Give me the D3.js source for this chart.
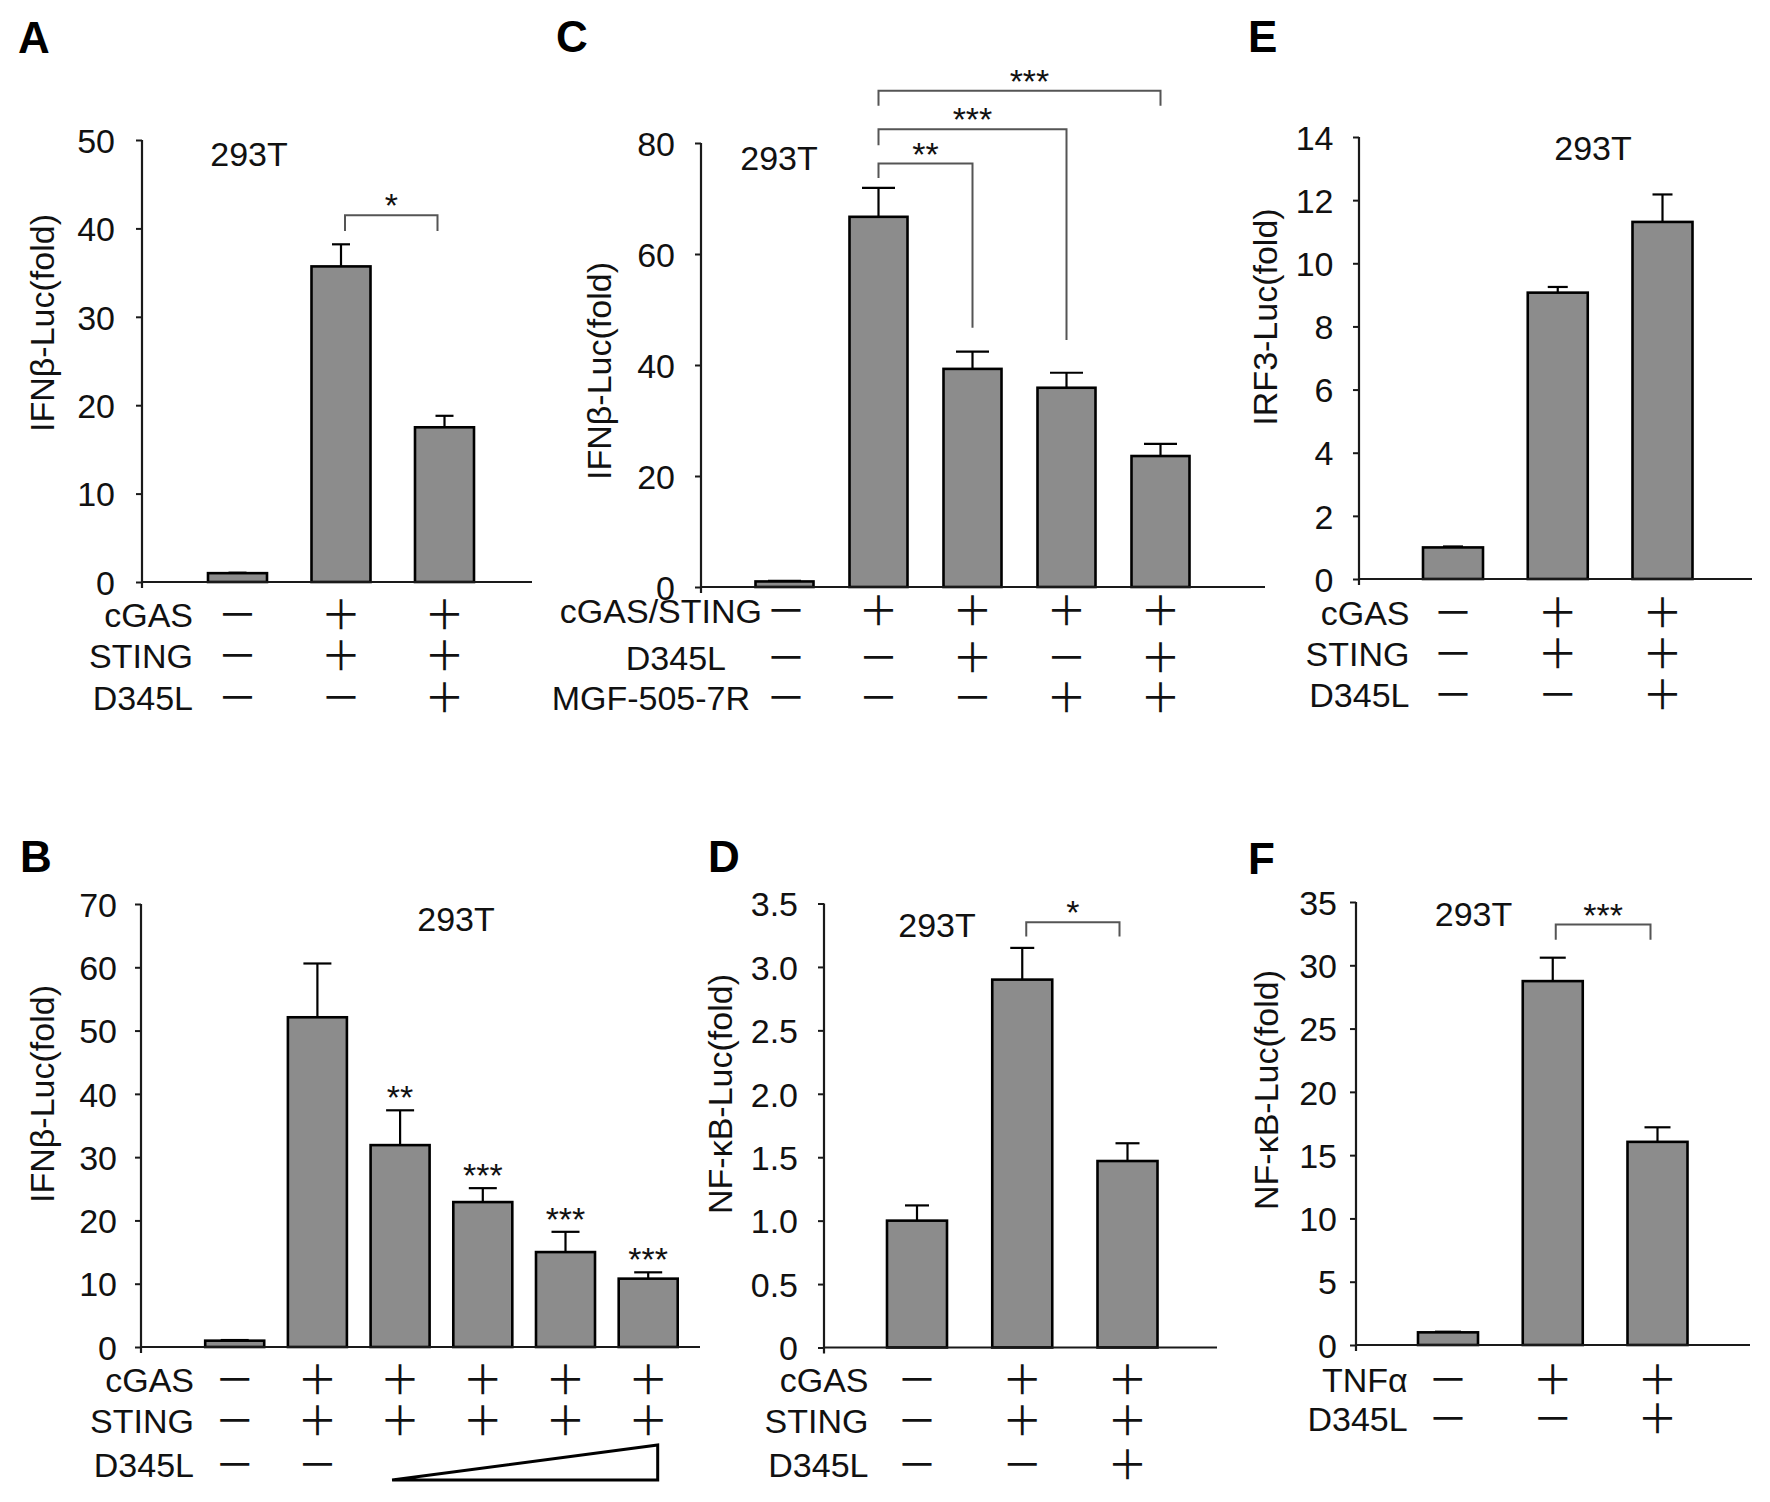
<!DOCTYPE html>
<html><head><meta charset="utf-8">
<script src="https://cdn.jsdelivr.net/npm/d3@7"></script>
<style>
body{margin:0;background:#fff}
svg{display:block}
</style>
</head><body>
<svg id="fig" width="1770" height="1502"></svg>
<script>
// ---------------- DATA ----------------
// Panel A
const aCategories = ["ctrl", "cGAS+STING", "cGAS+STING+D345L"];
const aValues = [1.0, 35.7, 17.5];
const aErrors = [0.05, 2.5, 1.3];
const aTicks = [0, 10, 20, 30, 40, 50];
const aRowLabels = ["cGAS", "STING", "D345L"];
const aRowSigns = [["-", "+", "+"], ["-", "+", "+"], ["-", "-", "+"]];
const aBrackets = [{from: 1, to: 2, label: "*"}];

// Panel C
const cCategories = ["ctrl", "cGAS/STING", "+D345L", "+MGF-505-7R", "+D345L+MGF-505-7R"];
const cValues = [1.0, 66.7, 39.3, 35.9, 23.6];
const cErrors = [0.1, 5.2, 3.1, 2.7, 2.2];
const cTicks = [0, 20, 40, 60, 80];
const cRowLabels = ["cGAS/STING", "D345L", "MGF-505-7R"];
const cRowSigns = [["-", "+", "+", "+", "+"], ["-", "-", "+", "-", "+"], ["-", "-", "-", "+", "+"]];
const cBrackets = [{from: 1, to: 2, label: "**"}, {from: 1, to: 3, label: "***"}, {from: 1, to: 4, label: "***"}];

// Panel E
const eCategories = ["ctrl", "cGAS+STING", "cGAS+STING+D345L"];
const eValues = [1.0, 9.07, 11.31];
const eErrors = [0.03, 0.18, 0.87];
const eTicks = [0, 2, 4, 6, 8, 10, 12, 14];
const eRowLabels = ["cGAS", "STING", "D345L"];
const eRowSigns = [["-", "+", "+"], ["-", "+", "+"], ["-", "-", "+"]];

// Panel B
const bCategories = ["ctrl", "cGAS+STING", "D345L dose 1", "D345L dose 2", "D345L dose 3", "D345L dose 4"];
const bValues = [1.0, 52.1, 31.9, 22.9, 15.0, 10.8];
const bErrors = [0.1, 8.5, 5.5, 2.2, 3.2, 1.0];
const bStars = ["", "", "**", "***", "***", "***"];
const bTicks = [0, 10, 20, 30, 40, 50, 60, 70];
const bRowLabels = ["cGAS", "STING", "D345L"];
const bRowSigns = [["-", "+", "+", "+", "+", "+"], ["-", "+", "+", "+", "+", "+"], ["-", "-", "ramp", "ramp", "ramp", "ramp"]];

// Panel D
const dCategories = ["ctrl", "cGAS+STING", "cGAS+STING+D345L"];
const dValues = [1.0, 2.90, 1.47];
const dErrors = [0.12, 0.25, 0.14];
const dTicks = [0, 0.5, 1.0, 1.5, 2.0, 2.5, 3.0, 3.5];
const dTickLabels = ["0", "0.5", "1.0", "1.5", "2.0", "2.5", "3.0", "3.5"];
const dRowLabels = ["cGAS", "STING", "D345L"];
const dRowSigns = [["-", "+", "+"], ["-", "+", "+"], ["-", "-", "+"]];
const dBrackets = [{from: 1, to: 2, label: "*"}];

// Panel F
const fCategories = ["ctrl", "TNFα", "TNFα+D345L"];
const fValues = [1.0, 28.75, 16.05];
const fErrors = [0.05, 1.85, 1.15];
const fTicks = [0, 5, 10, 15, 20, 25, 30, 35];
const fRowLabels = ["TNFα", "D345L"];
const fRowSigns = [["-", "+", "+"], ["-", "-", "+"]];
const fBrackets = [{from: 1, to: 2, label: "***"}];

// ---------------- LAYOUT / STYLE ----------------
const FONT = '"Liberation Sans", Arial, Helvetica, sans-serif';
const SYM_FONT = '"Noto Sans CJK SC", "Noto Sans CJK JP", sans-serif';
const BAR_FILL = "#8c8c8c";
const svg = d3.select("#fig");

function drawPanel(p) {
  const L = p.layout;
  const g = svg.append("g");
  const n = p.categories.length;
  const pad = 1 - L.barW / L.step;
  const x = d3.scaleBand().domain(p.categories)
    .range([L.c0 - L.step / 2, L.c0 + (n - 0.5) * L.step])
    .paddingInner(pad).paddingOuter(pad / 2);
  const y = d3.scaleLinear().domain([0, p.yMax]).range([L.y0, L.yTop]);
  const cx = c => x(c) + x.bandwidth() / 2;
  const rows = p.categories.map((c, i) => ({c, v: p.values[i], e: p.errors[i], i}));

  // bars
  g.append("g").selectAll("rect").data(rows).join("rect")
    .attr("x", d => x(d.c)).attr("y", d => y(d.v))
    .attr("width", x.bandwidth()).attr("height", d => y(0) - y(d.v))
    .attr("fill", BAR_FILL).attr("stroke", "#000").attr("stroke-width", 2.6);

  // error bars (upper)
  const eb = g.append("g").attr("stroke", "#000").attr("stroke-width", 2.2);
  eb.selectAll("line.v").data(rows.filter(d => d.e > 0)).join("line")
    .attr("x1", d => cx(d.c)).attr("x2", d => cx(d.c))
    .attr("y1", d => y(d.v)).attr("y2", d => y(d.v + d.e));
  eb.selectAll("line.cap").data(rows.filter(d => d.e > 0)).join("line")
    .attr("x1", d => cx(d.c) - L.cap / 2).attr("x2", d => cx(d.c) + L.cap / 2)
    .attr("y1", d => y(d.v + d.e)).attr("y2", d => y(d.v + d.e));

  // y axis
  const axis = d3.axisLeft(y).tickValues(p.ticks).tickSize(6).tickSizeOuter(0)
    .tickPadding(L.labelGap - 6)
    .tickFormat(p.tickLabels ? ((d, i) => p.tickLabels[i]) : d3.format("d"));
  const ga = g.append("g").attr("transform", `translate(${L.axisX},0)`).call(axis)
    .attr("font-size", 34).attr("font-family", FONT);
  ga.select(".domain").remove();
  ga.selectAll(".tick line").attr("stroke", "#1a1a1a").attr("stroke-width", 2);
  ga.selectAll(".tick text").attr("fill", "#111").attr("dy", "0.36em");
  g.append("line").attr("x1", L.axisX).attr("x2", L.axisX)
    .attr("y1", y(p.yMax)).attr("y2", y(0) + 6)
    .attr("stroke", "#1a1a1a").attr("stroke-width", 2.2);
  // x axis (baseline)
  g.append("line").attr("x1", L.axisX).attr("x2", L.xEnd)
    .attr("y1", y(0)).attr("y2", y(0))
    .attr("stroke", "#1a1a1a").attr("stroke-width", 2.2);

  // y label
  g.append("text").attr("transform", `translate(${L.ylabX},${L.ylabY}) rotate(-90)`)
    .attr("text-anchor", "middle").attr("font-family", FONT).attr("font-size", 34)
    .attr("fill", "#111").text(p.ylabel);

  // cell line label
  g.append("text").attr("x", L.cellX).attr("y", L.cellY).attr("text-anchor", "middle")
    .attr("font-family", FONT).attr("font-size", 34).attr("fill", "#111").text("293T");

  // panel letter
  g.append("text").attr("x", L.letterX).attr("y", L.letterY)
    .attr("font-family", FONT).attr("font-weight", "bold").attr("font-size", 44)
    .attr("fill", "#000").text(p.letter);

  // treatment rows
  p.rowLabels.forEach((lab, r) => {
    const by = L.rowY[r];
    const lx = Array.isArray(L.rowLabelX) ? L.rowLabelX[r] : L.rowLabelX;
    g.append("text").attr("x", lx).attr("y", by).attr("text-anchor", "end")
      .attr("font-family", FONT).attr("font-size", 34).attr("fill", "#111").text(lab);
    const signs = p.rowSigns[r];
    const sx = (i) => (i === 0 && L.firstSymX) ? L.firstSymX : cx(p.categories[i]);
    g.append("g").selectAll("text").data(signs.map((s, i) => ({s, i})).filter(d => d.s !== "ramp"))
      .join("text")
      .attr("x", d => sx(d.i)).attr("y", by + L.symDy)
      .attr("text-anchor", "middle").attr("font-family", SYM_FONT).attr("font-size", 40)
      .attr("fill", "#111").text(d => d.s === "+" ? "＋" : "－");
    const ramp = signs.map((s, i) => s === "ramp" ? i : -1).filter(i => i >= 0);
    if (ramp.length) {
      const xl = cx(p.categories[ramp[0]]) - 8;
      const xr = cx(p.categories[ramp[ramp.length - 1]]) + 9.5;
      const yb = by + 3, yt = by - 32;
      g.append("path").attr("d", `M${xl},${yb}L${xr},${yb}L${xr},${yt}Z`)
        .attr("fill", "#fff").attr("stroke", "#000").attr("stroke-width", 3).attr("stroke-linejoin", "miter");
    }
  });

  // significance brackets
  (p.brackets || []).forEach((b, k) => {
    const bl = L.brackets[k];
    const x1 = cx(p.categories[b.from]) + bl.inset[0];
    const x2 = cx(p.categories[b.to]) - bl.inset[1];
    g.append("path")
      .attr("d", `M${x1},${y(bl.dropL)}L${x1},${y(bl.top)}L${x2},${y(bl.top)}L${x2},${y(bl.dropR)}`)
      .attr("fill", "none").attr("stroke", "#555").attr("stroke-width", 2);
    g.append("text").attr("x", (x1 + x2) / 2 + (bl.labelDx || 0)).attr("y", y(bl.top) + 2)
      .attr("text-anchor", "middle").attr("font-family", FONT).attr("font-size", 34)
      .attr("fill", "#111").text(b.label);
  });

  // per-bar stars
  if (p.stars) {
    g.append("g").selectAll("text").data(rows.filter(d => p.stars[d.i]))
      .join("text")
      .attr("x", d => cx(d.c)).attr("y", d => y(d.v + d.e) - 1)
      .attr("text-anchor", "middle").attr("font-family", FONT).attr("font-size", 34)
      .attr("fill", "#111").text(d => p.stars[d.i]);
  }
}

drawPanel({
  letter: "A", categories: aCategories, values: aValues, errors: aErrors, ticks: aTicks, yMax: 50,
  ylabel: "IFNβ-Luc(fold)", rowLabels: aRowLabels, rowSigns: aRowSigns, brackets: aBrackets,
  layout: {axisX: 142, xEnd: 532, y0: 582, yTop: 140, c0: 237.5, step: 103.5, barW: 59, cap: 18,
    labelGap: 27, ylabX: 54, ylabY: 323, cellX: 249, cellY: 166, letterX: 18, letterY: 53,
    rowY: [627, 668, 710], rowLabelX: 193, symDy: 2,
    brackets: [{top: 41.5, dropL: 39.7, dropR: 39.7, inset: [4, 7]}]}
});

drawPanel({
  letter: "C", categories: cCategories, values: cValues, errors: cErrors, ticks: cTicks, yMax: 80,
  ylabel: "IFNβ-Luc(fold)", rowLabels: cRowLabels, rowSigns: cRowSigns, brackets: cBrackets,
  layout: {axisX: 701, xEnd: 1265, y0: 587, yTop: 143, c0: 784.5, step: 94, barW: 58, cap: 33,
    labelGap: 26, ylabX: 611, ylabY: 371, cellX: 779, cellY: 170, letterX: 556, letterY: 52,
    rowY: [623, 670, 710], rowLabelX: [762, 726, 750], symDy: 2, firstSymX: 786,
    brackets: [
      {top: 76.3, dropL: 73.7, dropR: 46.7, inset: [0, 0]},
      {top: 82.5, dropL: 79.6, dropR: 44.5, inset: [0, 0]},
      {top: 89.4, dropL: 86.7, dropR: 86.7, inset: [0, 0], labelDx: 10}]}
});

drawPanel({
  letter: "E", categories: eCategories, values: eValues, errors: eErrors, ticks: eTicks, yMax: 14,
  ylabel: "IRF3-Luc(fold)", rowLabels: eRowLabels, rowSigns: eRowSigns,
  layout: {axisX: 1359, xEnd: 1752, y0: 579, yTop: 137, c0: 1453, step: 104.75, barW: 60, cap: 20,
    labelGap: 25.5, ylabX: 1277, ylabY: 317, cellX: 1593, cellY: 160, letterX: 1248, letterY: 52,
    rowY: [625, 666, 707], rowLabelX: 1409.5, symDy: 2}
});

drawPanel({
  letter: "B", categories: bCategories, values: bValues, errors: bErrors, ticks: bTicks, yMax: 70,
  ylabel: "IFNβ-Luc(fold)", rowLabels: bRowLabels, rowSigns: bRowSigns, stars: bStars,
  layout: {axisX: 141, xEnd: 700, y0: 1347, yTop: 904, c0: 234.7, step: 82.7, barW: 59, cap: 28,
    labelGap: 24, ylabX: 54, ylabY: 1094, cellX: 456, cellY: 931, letterX: 20, letterY: 872,
    rowY: [1392, 1433, 1477], rowLabelX: 194, symDy: 2}
});

drawPanel({
  letter: "D", categories: dCategories, values: dValues, errors: dErrors, ticks: dTicks, tickLabels: dTickLabels, yMax: 3.5,
  ylabel: "NF-κB-Luc(fold)", rowLabels: dRowLabels, rowSigns: dRowSigns, brackets: dBrackets,
  layout: {axisX: 824, xEnd: 1217, y0: 1347.5, yTop: 903.5, c0: 917, step: 105.25, barW: 60, cap: 24,
    labelGap: 26, ylabX: 732, ylabY: 1094, cellX: 937, cellY: 936.5, letterX: 708, letterY: 872,
    rowY: [1392, 1433, 1477], rowLabelX: 868.5, symDy: 2,
    brackets: [{top: 3.353, dropL: 3.239, dropR: 3.239, inset: [4, 8]}]}
});

drawPanel({
  letter: "F", categories: fCategories, values: fValues, errors: fErrors, ticks: fTicks, yMax: 35,
  ylabel: "NF-κB-Luc(fold)", rowLabels: fRowLabels, rowSigns: fRowSigns, brackets: fBrackets,
  layout: {axisX: 1356, xEnd: 1750, y0: 1345, yTop: 902, c0: 1448, step: 104.75, barW: 60, cap: 26,
    labelGap: 19, ylabX: 1278, ylabY: 1090, cellX: 1473.5, cellY: 926, letterX: 1248, letterY: 874,
    rowY: [1392, 1431], rowLabelX: 1407.7, symDy: 2,
    brackets: [{top: 33.22, dropL: 32.02, dropR: 32.02, inset: [3, 7]}]}
});
</script>
</body></html>
